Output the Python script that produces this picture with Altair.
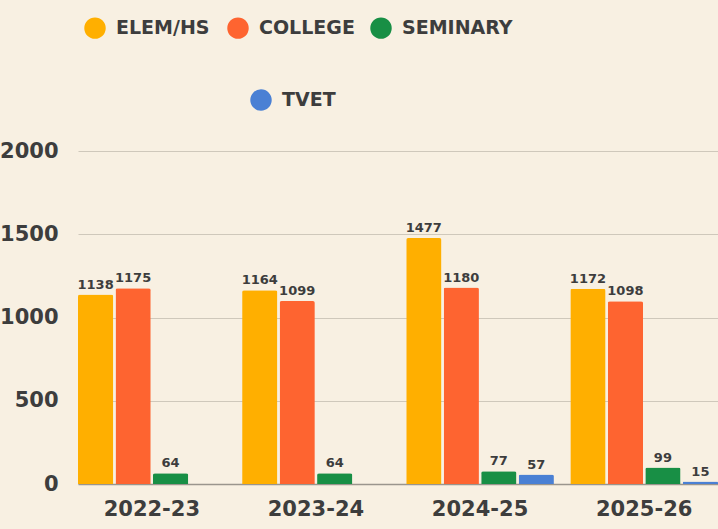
import altair as alt
import pandas as pd

years = ["2022-23", "2023-24", "2024-25", "2025-26"]
series = ["ELEM/HS", "COLLEGE", "SEMINARY", "TVET"]
elem = [1138, 1164, 1477, 1172]
college = [1175, 1099, 1180, 1098]
seminary = [64, 64, 77, 99]
tvet = [None, None, 57, 15]
colors = ["#FFAF00", "#FE6430", "#188F45", "#4A80D4"]

rows = []
for vals, s in zip([elem, college, seminary, tvet], series):
    for y, v in zip(years, vals):
        if v is not None:
            rows.append({"year": y, "series": s, "value": v})
df = pd.DataFrame(rows)

FONT = "DejaVu Sans"
TXT = "#3d3d3d"

x = alt.X("year:N", sort=years, title=None,
          scale=alt.Scale(paddingInner=0.1, paddingOuter=0),
          axis=alt.Axis(labelAngle=0, ticks=False, labelFontSize=21, labelPadding=14,
                        labelFont=FONT, labelFontWeight="bold", labelColor=TXT,
                        domainColor="#9a958d", domainWidth=1.5, grid=False))
xo = alt.XOffset("series:N", sort=series,
                 scale=alt.Scale(domain=series, paddingInner=0.06, paddingOuter=0))
y = alt.Y("value:Q", title=None,
          scale=alt.Scale(domain=[0, 2000]),
          axis=alt.Axis(values=[0, 500, 1000, 1500, 2000], format="d", domain=False, ticks=False,
                        labelFontSize=21, labelPadding=20, labelFont=FONT,
                        labelFontWeight="bold", labelColor=TXT,
                        gridColor="#cfc8bb", gridWidth=1))

base = alt.Chart(df)

legend_common = dict(title=None, orient="none", direction="horizontal",
                     symbolType="circle", symbolSize=460,
                     symbolStrokeWidth=0, symbolOpacity=1,
                     labelFontSize=19, labelFont=FONT,
                     labelFontWeight="bold", labelColor=TXT, labelOffset=10)

bars1 = base.transform_filter(
    alt.FieldOneOfPredicate(field="series", oneOf=series[:3])
).mark_bar(cornerRadiusTopLeft=2, cornerRadiusTopRight=2).encode(
    x=x, xOffset=xo, y=y,
    color=alt.Color("series:N", sort=series[:3],
                    scale=alt.Scale(domain=series[:3], range=colors[:3]),
                    legend=alt.Legend(legendX=6, legendY=-134, columns=3,
                                      columnPadding=0, gridAlign="all", **legend_common))
)

bars2 = base.transform_filter(
    alt.FieldEqualPredicate(field="series", equal=series[3])
).mark_bar(cornerRadiusTopLeft=2, cornerRadiusTopRight=2).encode(
    x=x, xOffset=xo, y=y,
    color=alt.Color("series:N",
                    scale=alt.Scale(domain=series[3:], range=colors[3:]),
                    legend=alt.Legend(legendX=172, legendY=-62, **legend_common))
)

labels = base.mark_text(dy=-6, baseline="alphabetic", fontSize=13, font=FONT,
                        fontWeight="bold", color=TXT).encode(
    x=x, xOffset=xo, y=y, text=alt.Text("value:Q")
)

chart = alt.layer(bars1, bars2, labels).resolve_scale(color="independent").properties(
    width=640, height=333,
    autosize=alt.AutoSizeParams(type="none"),
    padding={"left": 78, "top": 151, "right": 0, "bottom": 45},
    background="#F8F0E2",
).configure_view(stroke=None)

chart.save("out.html", embed_options={"renderer": "svg", "actions": False})
